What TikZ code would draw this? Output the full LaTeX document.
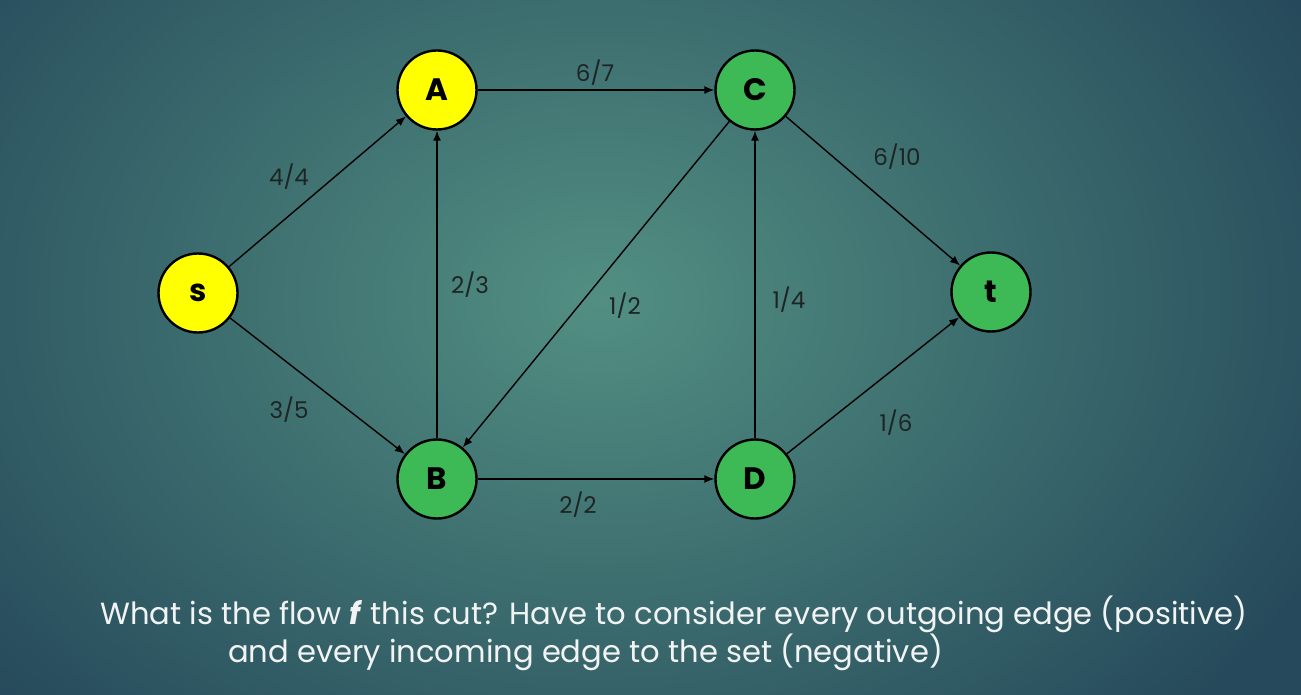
\documentclass[tikz,border=0pt]{standalone}
\usepackage{fontspec}
\setmainfont{Poppins}
\usetikzlibrary{arrows.meta}
\definecolor{fondoc}{HTML}{528F82}
\definecolor{fondob}{HTML}{264A5B}
\definecolor{amarillo}{HTML}{FFFF00}
\definecolor{verde}{HTML}{3DBA55}
\definecolor{etiqueta}{HTML}{1E2424}
\definecolor{texto}{HTML}{F2F4F4}

\begin{document}
\begin{tikzpicture}[x=1pt, y=-1pt, >={Latex[length=10pt,width=8pt]},
    vertice/.style={circle, draw=black, line width=2.4pt, minimum size=79pt,
      inner sep=0pt, font=\fontsize{31}{31}\selectfont\bfseries},
    arista/.style={->, line width=1.4pt, black},
    flujo/.style={text=etiqueta, font=\fontsize{23}{23}\selectfont},
    pregunta/.style={anchor=base west, text=texto, inner sep=0pt,
      font=\fontsize{30.6}{30.6}\selectfont}]
        % Fondo
        \useasboundingbox (0,0) rectangle (1301,695);
        \shade[inner color=fondoc, outer color=fondob] (-200,-300) rectangle (1400,900);

        % Vertices
        \node[vertice, fill=amarillo] (s) at (198,293) {s};
        \node[vertice, fill=amarillo] (A) at (437,90) {A};
        \node[vertice, fill=verde] (C) at (755,90) {C};
        \node[vertice, fill=verde] (B) at (437,479) {B};
        \node[vertice, fill=verde] (D) at (755,479) {D};
        \node[vertice, fill=verde] (t) at (991,292) {t};

        % Aristas
        \draw[arista] (s) -- (A);
        \draw[arista] (s) -- (B);
        \draw[arista] (A) -- (C);
        \draw[arista] (B) -- (A);
        \draw[arista] (C) -- (B);
        \draw[arista] (B) -- (D);
        \draw[arista] (D) -- (C);
        \draw[arista] (C) -- (t);
        \draw[arista] (D) -- (t);

        % Flujo / capacidad de cada arista
        \node[flujo] (fAC) at (595,73) {6/7};
        \node[flujo] (fsA) at (289,177) {4/4};
        \node[flujo] (fCt) at (897,157) {6/10};
        \node[flujo] (fBA) at (470,285) {2/3};
        \node[flujo] (fCB) at (625,306) {1/2};
        \node[flujo] (fDC) at (789,300) {1/4};
        \node[flujo] (fsB) at (289,410) {3/5};
        \node[flujo] (fDt) at (896,423) {1/6};
        \node[flujo] (fBD) at (578,505) {2/2};

        % Pregunta
        \node[pregunta] (preg1) at (100,624) {What is the flow \textbf{\textit{f}} this cut? Have to consider every outgoing edge (positive)};
        \node[pregunta] (preg2) at (228,662) {and every incoming edge to the set (negative)};
    \end{tikzpicture}
\end{document}
